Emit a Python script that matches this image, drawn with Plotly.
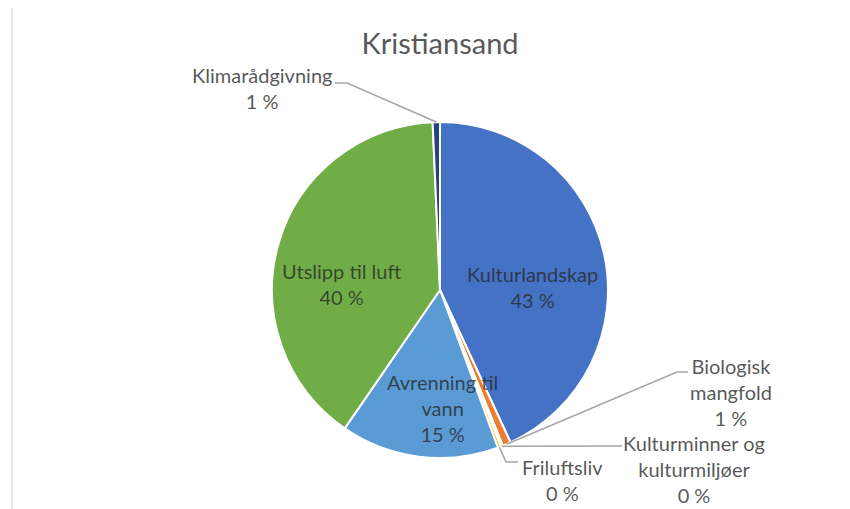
import math
import plotly.graph_objects as go

# ---- data ----
categories = ["Kulturlandskap", "Biologisk mangfold", "Kulturminner og kulturmiljøer",
              "Friluftsliv", "Avrenning til vann", "Utslipp til luft", "Klimarådgivning"]
values = [43.1, 0.8, 0.2, 0.3, 15.2, 39.7, 0.7]
label_names = ["Kulturlandskap", "Biologisk<br>mangfold", "Kulturminner og<br>kulturmiljøer",
               "Friluftsliv", "Avrenning til<br>vann", "Utslipp til luft", "Klimarådgivning"]
colors = ["#4472C4", "#ED7D31", "#A5A5A5", "#FFC000", "#5B9BD5", "#70AD47", "#264478"]
title_text = "Kristiansand"

W, H = 850, 509
OFF = 8  # page body margin
FONT = "Lato"
TXT = "rgba(40,40,40,0.78)"

def X(px):
    return (px - OFF) / W

def Y(py):
    return 1 - (py - OFF) / H

# pie placement (screen pixels)
pie_left, pie_right, pie_top, pie_bottom = 272, 608, 122, 458
cx = (pie_left + pie_right) / 2
cy = (pie_top + pie_bottom) / 2
R = (pie_right - pie_left) / 2

fig = go.Figure(go.Pie(
    labels=categories,
    values=values,
    sort=False,
    direction="clockwise",
    rotation=0,
    marker=dict(colors=colors, line=dict(color="white", width=2)),
    textinfo="none",
    hoverinfo="skip",
    showlegend=False,
    domain=dict(x=[X(pie_left), X(pie_right)], y=[Y(pie_bottom), Y(pie_top)]),
))

total = sum(values)
pct = [f"{round(v / total * 100):.0f} %" for v in values]

# slice mid angles -> edge points (pixels)
edge = []
cum = 0.0
for v in values:
    mid = (cum + v / 2) / total * 2 * math.pi
    edge.append((cx + R * math.sin(mid), cy - R * math.cos(mid)))
    cum += v

# label block centres (screen pixels)
label_pos = [(532, 287), (731, 392), (694, 469), (562, 480), (442, 408), (341, 284), (262, 88)]

annotations = []
for name, p, (lx, ly) in zip(label_names, pct, label_pos):
    annotations.append(dict(
        x=X(lx), y=Y(ly), xref="paper", yref="paper",
        text=f"{name}<br>{p}", showarrow=False, align="center",
        xanchor="center", yanchor="middle",
        font=dict(family=FONT, size=20, color=TXT),
    ))

# leader lines for the small slices (index -> waypoints in pixels)
leaders = {
    1: [(677, 372), (688, 372)],
    2: [(622, 446)],
    3: [(506, 462), (518, 462)],
    6: [(347, 83), (335, 83)],
}
shapes = []
for i, pts in leaders.items():
    ex, ey = edge[i]
    path = f"M {X(ex)},{Y(ey)}" + "".join(f" L {X(a)},{Y(b)}" for a, b in pts)
    shapes.append(dict(type="path", xref="paper", yref="paper", path=path,
                       line=dict(color="#A6A6A6", width=1.5)))

# chart frame (top/left edges visible)
shapes.append(dict(type="rect", xref="paper", yref="paper",
                   x0=X(12), y0=-0.05, x1=1.05, y1=Y(6),
                   line=dict(color="#D9D9D9", width=1.2), fillcolor="rgba(0,0,0,0)"))

fig.update_layout(
    width=W, height=H,
    margin=dict(l=0, r=0, t=0, b=0),
    paper_bgcolor="white",
    plot_bgcolor="white",
    title=dict(text=title_text, x=X(440), y=Y(44), xanchor="center", yanchor="middle",
               font=dict(family=FONT, size=29, color="#595959")),
    annotations=annotations,
    shapes=shapes,
)

fig.write_html("out.html")
